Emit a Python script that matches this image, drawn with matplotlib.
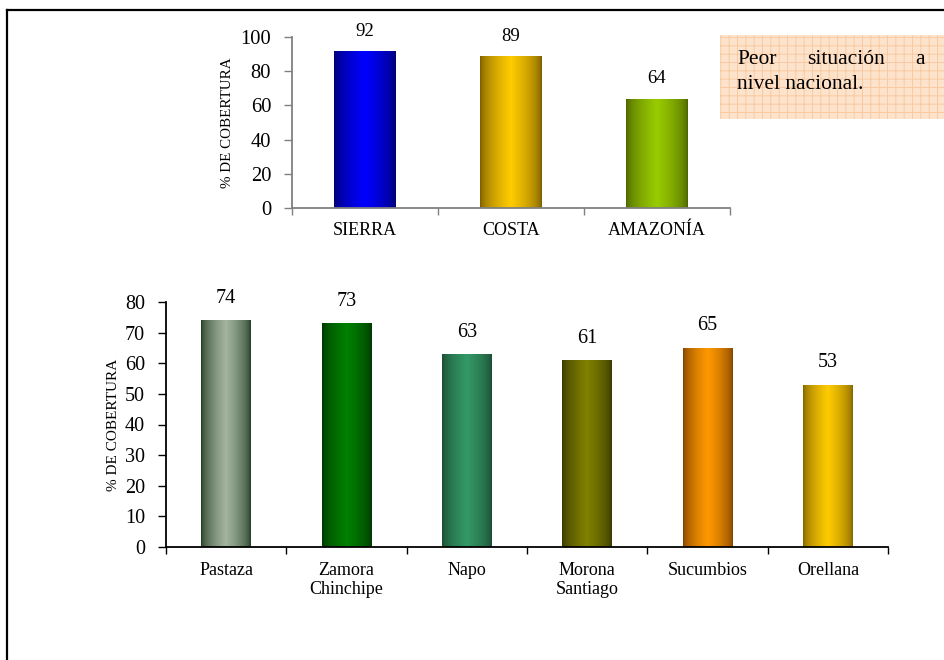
import numpy as np
import matplotlib
matplotlib.use("Agg")
import matplotlib.pyplot as plt
from matplotlib.colors import to_rgb
from matplotlib.patches import Rectangle
from matplotlib.lines import Line2D

# Coverage by region
regions = ["SIERRA", "COSTA", "AMAZONÍA"]
region_values = [92, 89, 64]
region_edge = ["#000066", "#735700", "#485e00"]
region_center = ["#0000ff", "#ffcc00", "#99cc00"]

# Coverage by Amazon province
provinces = ["Pastaza", "Zamora\nChinchipe", "Napo", "Morona\nSantiago", "Sucumbios", "Orellana"]
province_values = [74, 73, 63, 61, 65, 53]
province_edge = ["#1c361c", "#003300", "#1a4630", "#333300", "#7a3d00", "#7a5e00"]
province_center = ["#a3b5a0", "#008000", "#339966", "#808000", "#ff9900", "#ffcc00"]

note_line1 = ["Peor", "situación", "a"]
note_line2 = "nivel nacional."

plt.rcParams["font.family"] = ["Liberation Serif", "DejaVu Serif"]

W, H = 944, 660
fig = plt.figure(figsize=(W / 100, H / 100), dpi=100)


def fx(px):
    return px / W


def fy(py):
    return 1 - py / H


def gradient_bars(ax, bars, edges, centers):
    t = np.linspace(0, 1, 256)
    prof = (1 - np.abs(2 * t - 1)) ** 0.55
    for bar, ce, cc in zip(bars, edges, centers):
        e = np.array(to_rgb(ce))
        c = np.array(to_rgb(cc))
        img = e[None, :] + (c - e)[None, :] * prof[:, None]
        img = img[None, :, :]
        x0, w, h = bar.get_x(), bar.get_width(), bar.get_height()
        im = ax.imshow(img, extent=[x0, x0 + w, 0, h], aspect="auto",
                       interpolation="bilinear", zorder=bar.get_zorder() + 0.1)
        im.set_clip_path(bar)


def style_axes(ax, n, color, ytick_size, xtick_size, ypad, xpad):
    for s in ("top", "right"):
        ax.spines[s].set_visible(False)
    for s in ("left", "bottom"):
        ax.spines[s].set_color(color)
        ax.spines[s].set_linewidth(1.3)
    ax.set_xlim(0, n)
    ax.set_xticks(np.arange(n) + 0.5)
    ax.set_xticks(np.arange(n + 1), minor=True)
    ax.tick_params(axis="x", which="major", length=0, pad=xpad, labelsize=xtick_size)
    ax.tick_params(axis="x", which="minor", length=5, width=1.0, color=color, direction="out")
    ax.tick_params(axis="y", length=5.5, width=1.0, color=color, direction="out",
                   pad=ypad, labelsize=ytick_size)


# Top chart: regions
ax1 = fig.add_axes([fx(292), fy(208), fx(730 - 292), (208 - 37) / H])
bars1 = ax1.bar(np.arange(3) + 0.5, region_values, width=0.42, color=region_center, linewidth=0)
gradient_bars(ax1, bars1, region_edge, region_center)
style_axes(ax1, 3, "#808080", 14.8, 13, 9.5, 10)
ax1.set_ylim(0, 100)
ax1.set_yticks(np.arange(0, 101, 20))
ax1.set_xticklabels(regions)
for b, v in zip(bars1, region_values):
    ax1.annotate(f"{v}", (b.get_x() + b.get_width() / 2, v), xytext=(0, 8),
                 textcoords="offset points", ha="center", va="bottom", fontsize=13.5)
ax1.set_ylabel("% DE COBERTURA", fontsize=10.8)
ax1.yaxis.set_label_coords(fx(234 - 292) / fx(730 - 292), 0.5)

# Bottom chart: provinces
ax2 = fig.add_axes([fx(166), fy(547), fx(888 - 166), (547 - 302) / H])
bars2 = ax2.bar(np.arange(6) + 0.5, province_values, width=0.41, color=province_center, linewidth=0)
gradient_bars(ax2, bars2, province_edge, province_center)
style_axes(ax2, 6, "black", 14.5, 13, 9.5, 11)
ax2.set_ylim(0, 80)
ax2.set_yticks(np.arange(0, 81, 10))
ax2.set_xticklabels(provinces, linespacing=1.1)
for b, v in zip(bars2, province_values):
    ax2.annotate(f"{v}", (b.get_x() + b.get_width() / 2, v), xytext=(0, 9),
                 textcoords="offset points", ha="center", va="bottom", fontsize=14.5)
ax2.set_ylabel("% DE COBERTURA", fontsize=11)
ax2.yaxis.set_label_coords(fx(120 - 166) / fx(888 - 166), 0.5)

# Note box
plt.rcParams["hatch.color"] = "#f8c9a2"
plt.rcParams["hatch.linewidth"] = 0.7
box = Rectangle((fx(720), fy(119)), fx(240), (119 - 35) / H, transform=fig.transFigure,
                facecolor="#fde3cc", edgecolor="#f8c9a2", linewidth=0, hatch="++", zorder=5)
fig.add_artist(box)
fig.text(fx(737), fy(64), note_line1[0], ha="left", va="baseline", fontsize=15.5, zorder=6)
fig.text(fx(846), fy(64), note_line1[1], ha="center", va="baseline", fontsize=15.5, zorder=6)
fig.text(fx(925), fy(64), note_line1[2], ha="right", va="baseline", fontsize=15.5, zorder=6)
fig.text(fx(737), fy(89), note_line2, ha="left", va="baseline", fontsize=15.5, zorder=6)

# Page frame (top and left rules)
fig.add_artist(Line2D([fx(6.5), 1], [fy(9.5), fy(9.5)], transform=fig.transFigure,
                      color="black", linewidth=1.6))
fig.add_artist(Line2D([fx(6.5), fx(6.5)], [fy(9.5), 0], transform=fig.transFigure,
                      color="black", linewidth=1.6))

fig.savefig("out.png", dpi=100)
